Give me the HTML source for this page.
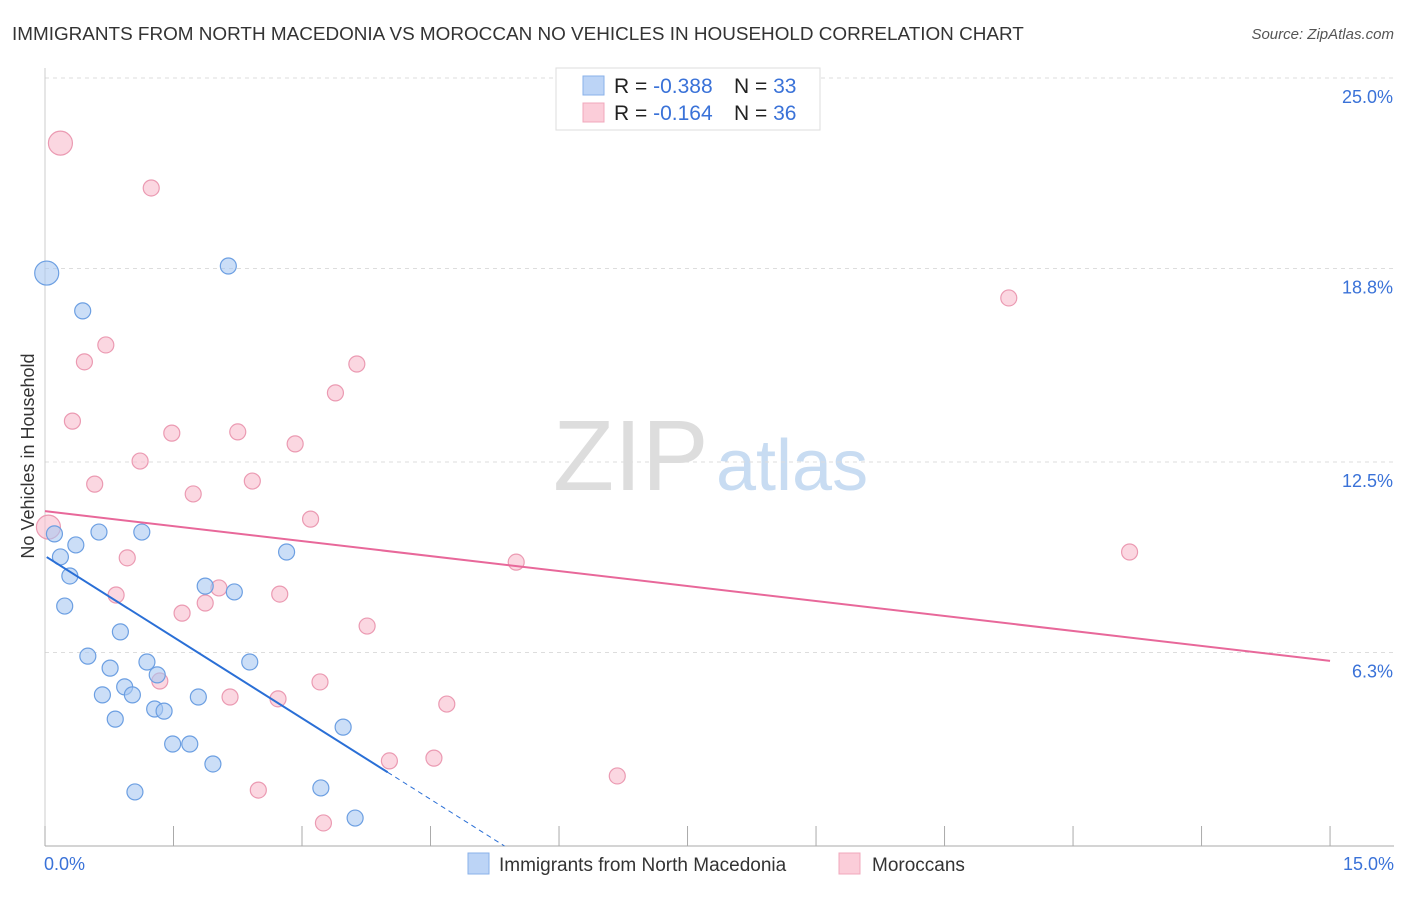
<!DOCTYPE html>
<html><head><meta charset="utf-8"><style>
body{margin:0;background:#fff;font-family:"Liberation Sans",sans-serif;}
svg text{font-family:"Liberation Sans",sans-serif;}
</style></head><body>
<svg id="chart" width="1406" height="892" xmlns="http://www.w3.org/2000/svg">
<text x="12" y="40" font-size="18.9" fill="#333">IMMIGRANTS FROM NORTH MACEDONIA VS MOROCCAN NO VEHICLES IN HOUSEHOLD CORRELATION CHART</text>
<text x="1394" y="39" font-size="15" fill="#555" font-style="italic" text-anchor="end">Source: ZipAtlas.com</text>
<text x="0" y="0" transform="translate(34,456) rotate(-90)" font-size="18" fill="#333" text-anchor="middle">No Vehicles in Household</text>
<g><text x="553" y="490" font-size="100" font-family="Liberation Serif,serif" fill="#ddd">ZIP</text><text x="716" y="490" font-size="72" fill="#c8dcf2">atlas</text></g>
<g id="grid"></g><g id="marks"></g>
<g>
<rect x="556" y="68" width="264" height="62" fill="#fff" stroke="#ddd"/>
<rect x="583" y="76" width="21" height="19" fill="#bcd4f6" stroke="#8ab2ea"/>
<rect x="583" y="103" width="21" height="19" fill="#fbcdd9" stroke="#f0a8bc"/>
<text x="614" y="93" font-size="21" fill="#222">R = <tspan fill="#3a72d8">-0.388</tspan></text>
<text x="734" y="93" font-size="21" fill="#222">N = <tspan fill="#3a72d8">33</tspan></text>
<text x="614" y="120" font-size="21" fill="#222">R =  <tspan fill="#3a72d8">-0.164</tspan></text>
<text x="734" y="120" font-size="21" fill="#222">N = <tspan fill="#3a72d8">36</tspan></text>
</g>
<g>
<rect x="468" y="853" width="21" height="21" fill="#bcd4f6" stroke="#8ab2ea"/>
<text x="499" y="871" font-size="19" fill="#333">Immigrants from North Macedonia</text>
<rect x="839" y="853" width="21" height="21" fill="#fbcdd9" stroke="#f0a8bc"/>
<text x="872" y="871" font-size="19" fill="#333">Moroccans</text>
</g>
</svg>
<script>
const yTicks=[25.0,18.8,12.5,6.3];
const yTickLabels=["25.0%","18.8%","12.5%","6.3%"];
const xTickLabels=["0.0%","15.0%"];
const blueX=[0.02,2.14,0.44,0.11,0.63,1.13,0.36,0.18,2.82,0.29,1.87,2.21,0.23,0.88,0.50,1.19,2.39,0.76,1.31,0.93,0.67,1.02,1.79,1.28,1.39,0.82,3.48,1.49,1.69,1.96,3.22,1.05,3.62];
const blueY=[18.65,18.88,17.42,10.16,10.22,10.22,9.80,9.41,9.57,8.79,8.46,8.27,7.81,6.97,6.18,5.99,5.99,5.79,5.57,5.18,4.92,4.92,4.85,4.46,4.39,4.13,3.87,3.32,3.32,2.67,1.89,1.76,0.91];
const pinkX=[0.18,1.24,11.25,0.71,0.46,3.64,3.39,0.32,1.48,2.25,2.92,1.11,0.58,2.42,1.73,3.10,0.04,0.96,5.50,12.66,0.83,2.74,1.60,1.87,2.03,3.76,1.34,3.21,2.16,2.72,4.69,4.02,4.54,6.68,2.49,3.25];
const pinkY=[22.88,21.42,17.84,16.31,15.76,15.69,14.75,13.83,13.44,13.48,13.09,12.53,11.78,11.88,11.46,10.64,10.38,9.38,9.24,9.57,8.17,8.20,7.58,7.91,8.40,7.16,5.37,5.34,4.85,4.79,4.62,2.77,2.86,2.28,1.82,0.75];
const blueBig=[0];
const pinkBig=[0,16];
const blueTrend=[9.44,-1.76];
const pinkTrend=[10.9,-0.325];
const NS="http://www.w3.org/2000/svg";
const xs=v=>45+v*85.67, ys=v=>846-v*30.72;
function mk(tag,attrs,parent){const e=document.createElementNS(NS,tag);for(const k in attrs)e.setAttribute(k,attrs[k]);parent.appendChild(e);return e;}
const grid=document.getElementById('grid'), marks=document.getElementById('marks');
yTicks.forEach((t,i)=>{
 const l=mk('line',{x1:45,x2:1394,y1:ys(t),y2:ys(t),stroke:'#ddd','stroke-dasharray':'4,4'},grid);
 
 
 const tx=mk('text',{x:1393,y:ys(t)+25,'font-size':18,fill:'#3a72d8','text-anchor':'end'},grid);
 tx.textContent=yTickLabels[i];
 
 
});
const ax=mk('line',{x1:45,x2:1394,y1:846,y2:846,stroke:'#aaa'},grid);


const ay=mk('line',{x1:45,x2:45,y1:68,y2:846,stroke:'#ccc'},grid);


for(let i=0;i<=10;i++){
 const t=mk('line',{x1:xs(i*1.5),x2:xs(i*1.5),y1:826,y2:846,stroke:'#aaa'},grid);
 
 
}
[[0,'start',44],[15,'end',1394]].forEach((d,i)=>{
 const tx=mk('text',{x:d[2],y:870,'font-size':18,fill:'#3a72d8','text-anchor':d[1]},grid);
 tx.textContent=xTickLabels[i];
 
 
});
function dots(X,Y,big,fill,stroke,name){
 X.forEach((x,i)=>{
  const c=mk('circle',{cx:xs(x),cy:ys(Y[i]),r:big.includes(i)?12:8,fill:fill,'fill-opacity':0.6,stroke:stroke,'stroke-width':1.2},marks);
  
  
 });
}
dots(pinkX,pinkY,pinkBig,'#f8bccd','#eb9ab2','moroccan-point');
dots(blueX,blueY,blueBig,'#a9c8f2','#6c9fe2','macedonia-point');
const bEnd=4.0, bZero=-blueTrend[0]/blueTrend[1];
const bl=mk('line',{x1:xs(0.02),y1:ys(blueTrend[0]+blueTrend[1]*0.02),x2:xs(bEnd),y2:ys(blueTrend[0]+blueTrend[1]*bEnd),stroke:'#2a6fd6','stroke-width':2},marks);


const bd=mk('line',{x1:xs(bEnd),y1:ys(blueTrend[0]+blueTrend[1]*bEnd),x2:xs(bZero),y2:ys(0),stroke:'#2a6fd6','stroke-width':1,'stroke-dasharray':'5,4'},marks);


const pl=mk('line',{x1:xs(0),y1:ys(pinkTrend[0]),x2:xs(15),y2:ys(pinkTrend[0]+pinkTrend[1]*15),stroke:'#e8689a','stroke-width':2},marks);


</script>
</body></html>
